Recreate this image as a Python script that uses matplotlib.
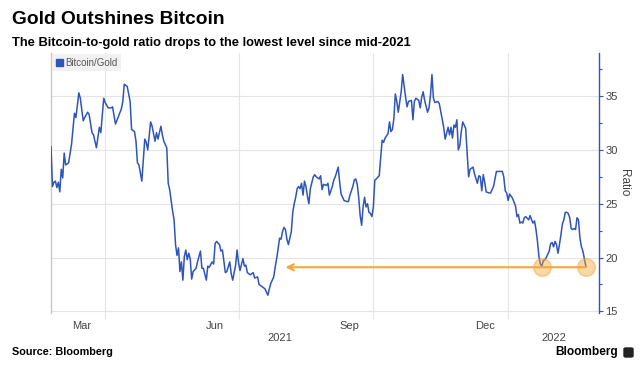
import matplotlib
matplotlib.use("Agg")
import matplotlib.pyplot as plt
import matplotlib.dates as mdates
import matplotlib.transforms as mtransforms
from matplotlib.patches import Patch, FancyBboxPatch
from matplotlib.ticker import MultipleLocator, NullFormatter
import pandas as pd

plt.rcParams['font.family'] = ['Liberation Sans', 'DejaVu Sans']

# Bitcoin/Gold ratio
dates = [
    "2021-02-23", "2021-02-24", "2021-02-25", "2021-02-26", "2021-02-27", "2021-02-28",
    "2021-03-01", "2021-03-02", "2021-03-03", "2021-03-04", "2021-03-05", "2021-03-07", "2021-03-09",
    "2021-03-10", "2021-03-11", "2021-03-12", "2021-03-14", "2021-03-15", "2021-03-17", "2021-03-18",
    "2021-03-20", "2021-03-21", "2021-03-23", "2021-03-24", "2021-03-26", "2021-03-28", "2021-03-29",
    "2021-03-31",
    "2021-04-01", "2021-04-03", "2021-04-05", "2021-04-06", "2021-04-08", "2021-04-10", "2021-04-12",
    "2021-04-13", "2021-04-14", "2021-04-16", "2021-04-18", "2021-04-19", "2021-04-21", "2021-04-22",
    "2021-04-23", "2021-04-24", "2021-04-26", "2021-04-28", "2021-04-29", "2021-04-30",
    "2021-05-02", "2021-05-03", "2021-05-04", "2021-05-05", "2021-05-06", "2021-05-07", "2021-05-09",
    "2021-05-10", "2021-05-11", "2021-05-13", "2021-05-14", "2021-05-15", "2021-05-17", "2021-05-18",
    "2021-05-19", "2021-05-20", "2021-05-21", "2021-05-22", "2021-05-23", "2021-05-24", "2021-05-25",
    "2021-05-26", "2021-05-27", "2021-05-28", "2021-05-29", "2021-05-30", "2021-05-31",
    "2021-06-02", "2021-06-03", "2021-06-05", "2021-06-06", "2021-06-07", "2021-06-09", "2021-06-10",
    "2021-06-11", "2021-06-13", "2021-06-14", "2021-06-15", "2021-06-16", "2021-06-18", "2021-06-19",
    "2021-06-20", "2021-06-22", "2021-06-23", "2021-06-25", "2021-06-26", "2021-06-27", "2021-06-29",
    "2021-06-30",
    "2021-07-01", "2021-07-02", "2021-07-04", "2021-07-05", "2021-07-06", "2021-07-07", "2021-07-09",
    "2021-07-10", "2021-07-11", "2021-07-12", "2021-07-14", "2021-07-15", "2021-07-16", "2021-07-17",
    "2021-07-19", "2021-07-20", "2021-07-21", "2021-07-22", "2021-07-23", "2021-07-25", "2021-07-26",
    "2021-07-27", "2021-07-28", "2021-07-29", "2021-07-30", "2021-07-31",
    "2021-08-01", "2021-08-02", "2021-08-03", "2021-08-04", "2021-08-06", "2021-08-07", "2021-08-08",
    "2021-08-09", "2021-08-10", "2021-08-11", "2021-08-12", "2021-08-13", "2021-08-14", "2021-08-15",
    "2021-08-16", "2021-08-17", "2021-08-18", "2021-08-19", "2021-08-21", "2021-08-22", "2021-08-23",
    "2021-08-25", "2021-08-26", "2021-08-27", "2021-08-28", "2021-08-30", "2021-08-31",
    "2021-09-01", "2021-09-03", "2021-09-04", "2021-09-05", "2021-09-07", "2021-09-08", "2021-09-09",
    "2021-09-10", "2021-09-11", "2021-09-13", "2021-09-14", "2021-09-15", "2021-09-17", "2021-09-18",
    "2021-09-19", "2021-09-20", "2021-09-21", "2021-09-22", "2021-09-23", "2021-09-24", "2021-09-25",
    "2021-09-26", "2021-09-27", "2021-09-28", "2021-09-29", "2021-09-30",
    "2021-10-01", "2021-10-02", "2021-10-03", "2021-10-05", "2021-10-06", "2021-10-07", "2021-10-08",
    "2021-10-09", "2021-10-11", "2021-10-12", "2021-10-13", "2021-10-14", "2021-10-15", "2021-10-16",
    "2021-10-17", "2021-10-18", "2021-10-20", "2021-10-21", "2021-10-23", "2021-10-24", "2021-10-25",
    "2021-10-27", "2021-10-28", "2021-10-29", "2021-10-30",
    "2021-11-01", "2021-11-02", "2021-11-03", "2021-11-04", "2021-11-05", "2021-11-07", "2021-11-08",
    "2021-11-09", "2021-11-10", "2021-11-11", "2021-11-12", "2021-11-14", "2021-11-15", "2021-11-17",
    "2021-11-18", "2021-11-19", "2021-11-21", "2021-11-22", "2021-11-23", "2021-11-24", "2021-11-25",
    "2021-11-26", "2021-11-27", "2021-11-28", "2021-11-29", "2021-11-30",
    "2021-12-01", "2021-12-02", "2021-12-03", "2021-12-04", "2021-12-05", "2021-12-06", "2021-12-08",
    "2021-12-09", "2021-12-11", "2021-12-12", "2021-12-13", "2021-12-14", "2021-12-15", "2021-12-16",
    "2021-12-17", "2021-12-19", "2021-12-20", "2021-12-22", "2021-12-23", "2021-12-24", "2021-12-26",
    "2021-12-28", "2021-12-29", "2021-12-30", "2021-12-31",
    "2022-01-01", "2022-01-02", "2022-01-03", "2022-01-04", "2022-01-06", "2022-01-07", "2022-01-08",
    "2022-01-09", "2022-01-10", "2022-01-11", "2022-01-12", "2022-01-13", "2022-01-15", "2022-01-16",
    "2022-01-17", "2022-01-18", "2022-01-19", "2022-01-20", "2022-01-21", "2022-01-22", "2022-01-23",
    "2022-01-24", "2022-01-25", "2022-01-26", "2022-01-27", "2022-01-29", "2022-01-30", "2022-01-31",
    "2022-02-01", "2022-02-02", "2022-02-03", "2022-02-04", "2022-02-05", "2022-02-06", "2022-02-07",
    "2022-02-08", "2022-02-09", "2022-02-10", "2022-02-11", "2022-02-12", "2022-02-13", "2022-02-14",
    "2022-02-15", "2022-02-16", "2022-02-17", "2022-02-18", "2022-02-19", "2022-02-20", "2022-02-21",
    "2022-02-22", "2022-02-23",
]
ratio = [
    30.3, 26.6, 27.0, 27.1, 26.5, 27.0,
    26.1, 28.2, 27.4, 29.7, 28.6, 28.8, 30.5, 32.0, 33.4, 33.0, 35.3, 34.8, 32.7, 33.0,
    33.5, 33.3, 31.6, 31.4, 30.2, 32.1, 31.6, 34.8,
    34.4, 33.9, 33.9, 34.0, 32.4, 33.1, 33.8, 34.5, 36.1, 35.9, 34.5, 31.9, 31.7, 30.8,
    28.8, 28.6, 27.1, 31.0, 30.7, 30.0,
    32.6, 32.2, 31.5, 30.8, 31.6, 31.0, 32.2, 31.4, 30.8, 30.2, 26.9, 26.3, 24.3, 23.5,
    21.2, 20.2, 20.9, 18.7, 19.6, 17.9, 20.1, 20.7, 19.8, 20.4, 19.9, 18.0, 18.7,
    19.0, 19.6, 20.6, 19.0, 19.0, 17.9, 19.2, 19.1, 19.6, 19.4, 21.3, 21.5, 21.2, 20.6,
    20.7, 18.6, 18.7, 19.6, 18.5, 17.9, 19.3, 20.7,
    19.5, 18.8, 19.9, 19.2, 19.3, 18.6, 18.4, 18.5, 18.6, 18.1, 18.2, 17.5, 17.4, 17.3,
    17.1, 16.8, 16.5, 17.1, 17.6, 18.2, 19.1, 19.9, 20.8, 21.8, 21.7, 22.4,
    22.8, 22.6, 21.7, 21.2, 22.4, 24.2, 25.0, 25.6, 26.4, 26.6, 26.4, 26.9, 25.8, 27.1,
    26.6, 25.7, 25.0, 26.4, 27.5, 27.7, 27.5, 27.3, 27.6, 26.3, 26.8, 26.7, 26.9,
    25.8, 26.6, 27.2, 27.5, 28.4, 27.0, 25.9, 25.6, 25.3, 25.2, 25.2, 25.8, 26.6, 27.2,
    27.3, 26.8, 25.6, 23.9, 23.0, 24.7, 25.6, 24.7, 25.0, 24.2, 24.1, 23.8,
    24.7, 27.2, 27.3, 27.6, 29.3, 30.9, 30.7, 31.1, 31.5, 32.6, 31.7, 31.9, 32.9, 35.2,
    34.5, 33.5, 35.4, 37.0, 34.9, 34.0, 34.5, 34.6, 32.8, 34.5, 34.8,
    34.6, 33.9, 34.9, 35.4, 34.6, 33.5, 33.9, 35.1, 37.0, 34.8, 34.4, 34.5, 34.3, 32.8,
    32.1, 31.0, 32.1, 31.4, 32.1, 31.1, 32.3, 32.1, 32.8, 30.0, 30.4, 31.7,
    32.6, 32.3, 32.0, 29.7, 27.5, 28.2, 28.4, 27.8, 26.9, 27.6, 27.5, 26.2, 27.7, 27.0,
    26.1, 26.0, 26.0, 26.6, 27.3, 28.0, 28.0, 28.0, 27.5, 26.2, 26.0,
    25.3, 25.9, 25.7, 25.5, 24.8, 23.8, 24.0, 23.2, 23.3, 23.2, 23.7, 23.8, 23.5, 23.9,
    23.5, 23.2, 23.4, 22.6, 21.5, 20.1, 19.4, 19.2, 19.7, 19.8, 20.0, 20.6, 21.3, 21.4,
    21.0, 21.5, 21.2, 20.4, 21.2, 22.1, 23.1, 23.5, 24.2, 24.2, 24.1, 23.7, 22.7, 22.6,
    22.7, 22.6, 23.7, 23.5, 21.8, 21.0, 20.6, 19.9, 19.2,
]

# highlighted lows and the arrow pointing back to mid-2021
marker_dates = ["2022-01-24", "2022-02-23"]
marker_level = 19.1
arrow_tip = "2021-08-02"

x_start = "2021-02-23"
x_end = "2022-03-04"
month_labels = ["2021-03-16", "2021-06-15", "2021-09-15", "2021-12-16"]

line_color = '#2f55b8'
orange = '#f2a83a'
grid_color = '#e4e4e4'
text_color = '#444444'

df = pd.DataFrame({'ratio': ratio}, index=pd.to_datetime(dates))

fig = plt.figure(figsize=(6.42, 3.77), dpi=100)
ax = fig.add_axes([51 / 642, 1 - 313 / 377, 548 / 642, 260 / 377])

ax.plot(df.index, df['ratio'], color=line_color, lw=1.1, zorder=3)

# arrow + circles
ax.annotate('', xy=(pd.Timestamp(arrow_tip), marker_level),
            xytext=(pd.Timestamp(marker_dates[-1]), marker_level),
            arrowprops=dict(arrowstyle='->', color=orange, lw=1.5,
                            mutation_scale=11, shrinkA=0, shrinkB=0),
            zorder=4)
ax.scatter(pd.to_datetime(marker_dates), [marker_level] * len(marker_dates),
           s=160, facecolor=orange, edgecolor=orange, alpha=0.45, lw=1.2, zorder=5)

ax.set_xlim(pd.Timestamp(x_start), pd.Timestamp(x_end))
ax.set_ylim(14.85, 39.0)

# y axis on the right
ax.yaxis.tick_right()
ax.yaxis.set_label_position('right')
ax.yaxis.set_major_locator(MultipleLocator(5))
ax.yaxis.set_minor_locator(MultipleLocator(2.5))
ax.tick_params(axis='y', which='both', direction='out', length=3, width=0.8,
               color=line_color, labelsize=8, labelcolor=text_color, pad=1.5)
ax.tick_params(axis='y', which='minor', length=2)
ax.set_ylabel('Ratio', rotation=270, fontsize=8.5, color=text_color, labelpad=9)

# x axis: quarter gridlines, month labels in between
ax.xaxis.set_major_locator(mdates.MonthLocator(bymonth=[1, 4, 7, 10]))
ax.xaxis.set_major_formatter(NullFormatter())
ax.xaxis.set_minor_locator(mdates.DayLocator())  # placeholder, replaced below
ax.set_xticks(pd.to_datetime(month_labels), minor=True)
ax.xaxis.set_minor_formatter(mdates.DateFormatter('%b'))
ax.tick_params(axis='x', which='major', length=4, color=grid_color, width=0.8)
ax.tick_params(axis='x', which='minor', length=0, labelsize=8, labelcolor=text_color, pad=6)

trans = mtransforms.blended_transform_factory(ax.transData, ax.transAxes)
year_break = pd.Timestamp("2022-01-01")
x0, x1 = pd.Timestamp(x_start), pd.Timestamp(x_end)
ax.text(x0 + (year_break - x0) / 2, -0.097, '2021', transform=trans,
        ha='center', va='center', fontsize=8, color=text_color)
ax.text(year_break + (x1 - year_break) / 2, -0.097, '2022', transform=trans,
        ha='center', va='center', fontsize=8, color=text_color)

ax.grid(True, which='major', color=grid_color, lw=0.8)
ax.set_axisbelow(True)

for s in ['top', 'bottom']:
    ax.spines[s].set_visible(False)
ax.spines['left'].set_color('#c8c8c8')
ax.spines['left'].set_linewidth(1.0)
ax.spines['right'].set_color(line_color)
ax.spines['right'].set_linewidth(1.0)

leg = ax.legend(handles=[Patch(color=line_color, label='Bitcoin/Gold')],
                loc='upper left', fontsize=7, frameon=True, fancybox=False,
                handlelength=0.7, handleheight=0.7, handletextpad=0.3,
                borderpad=0.35, borderaxespad=0.15)
leg.get_frame().set_facecolor('#eeeeee')
leg.get_frame().set_edgecolor('none')
for t in leg.get_texts():
    t.set_color('#555555')

# titles and footer
fig.text(12 / 642, 1 - 20 / 377, 'Gold Outshines Bitcoin', fontsize=13.8,
         fontweight='bold', ha='left', va='center')
fig.text(12 / 642, 1 - 43 / 377,
         'The Bitcoin-to-gold ratio drops to the lowest level since mid-2021',
         fontsize=9.3, fontweight='bold', ha='left', va='center')
fig.text(12 / 642, 1 - 352 / 377, 'Source: Bloomberg', fontsize=7.8,
         fontweight='bold', ha='left', va='center')
fig.text(618 / 642, 1 - 352 / 377, 'Bloomberg', fontsize=8.6,
         fontweight='bold', ha='right', va='center')
fig.patches.append(FancyBboxPatch((624 / 642, 1 - 357 / 377), 9 / 642, 9 / 377,
                                  boxstyle='round,pad=0,rounding_size=0.003',
                                  transform=fig.transFigure, color='#222222'))

fig.savefig('out.png', dpi=100)
